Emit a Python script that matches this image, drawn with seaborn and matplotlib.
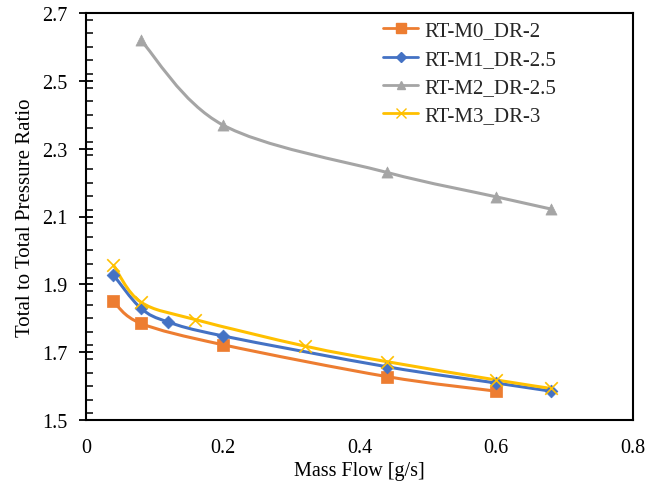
import numpy as np
import pandas as pd
import matplotlib
matplotlib.use("Agg")
import matplotlib.pyplot as plt
from matplotlib.path import Path
from matplotlib.patches import PathPatch
from matplotlib.lines import Line2D
from matplotlib.ticker import MultipleLocator
import seaborn as sns

# ---- data ----
series_names = ["RT-M0_DR-2", "RT-M1_DR-2.5", "RT-M2_DR-2.5", "RT-M3_DR-3"]

m0_flow = [0.04, 0.08, 0.20, 0.44, 0.60]
m0_ratio = [1.850, 1.785, 1.722, 1.628, 1.585]

m1_flow = [0.04, 0.08, 0.12, 0.20, 0.44, 0.60, 0.68]
m1_ratio = [1.928, 1.830, 1.789, 1.748, 1.657, 1.609, 1.585]

m2_flow = [0.08, 0.20, 0.44, 0.60, 0.68]
m2_ratio = [2.620, 2.370, 2.230, 2.158, 2.122]

m3_flow = [0.04, 0.08, 0.16, 0.32, 0.44, 0.60, 0.68]
m3_ratio = [1.957, 1.848, 1.796, 1.718, 1.672, 1.618, 1.593]

colors = ["#ED7D31", "#4472C4", "#A5A5A5", "#FFC000"]
markers = ["s", "D", "^", "x"]
msizes = [9, 6.5, 8, 9]

x_ticks = [0, 0.2, 0.4, 0.6, 0.8]
y_ticks = [1.5, 1.7, 1.9, 2.1, 2.3, 2.5, 2.7]

frames = []
for name, fx, fy in zip(series_names,
                        [m0_flow, m1_flow, m2_flow, m3_flow],
                        [m0_ratio, m1_ratio, m2_ratio, m3_ratio]):
    frames.append(pd.DataFrame({"flow": fx, "ratio": fy, "series": name}))
df = pd.concat(frames, ignore_index=True)

sns.set_theme(style="white")
plt.rcParams["font.family"] = ["Liberation Serif", "DejaVu Serif"]

fig = plt.figure(figsize=(6.62, 4.89), dpi=100)
ax = fig.add_axes([86 / 662, 1 - 421 / 489, (633 - 86) / 662, (421 - 14) / 489])


def smooth_path(xs, ys, tension=1 / 6):
    """Excel-like smoothed line: Catmull-Rom segments as cubic Bezier curves."""
    pts = np.column_stack([xs, ys])
    n = len(pts)
    verts = [pts[0]]
    codes = [Path.MOVETO]
    for i in range(n - 1):
        p0 = pts[i - 1] if i > 0 else pts[i]
        p1 = pts[i]
        p2 = pts[i + 1]
        p3 = pts[i + 2] if i + 2 < n else pts[i + 1]
        c1 = p1 + (p2 - p0) * tension
        c2 = p2 - (p3 - p1) * tension
        verts += [c1, c2, p2]
        codes += [Path.CURVE4] * 3
    return Path(verts, codes)


for name, c in zip(series_names, colors):
    sub = df[df["series"] == name]
    path = smooth_path(sub["flow"].to_numpy(), sub["ratio"].to_numpy())
    ax.add_patch(PathPatch(path, facecolor="none", edgecolor=c, lw=2.2, zorder=2))

for name, c, m, s in zip(series_names, colors, markers, msizes):
    sub = df[df["series"] == name]
    kw = dict(color=c, marker=m, s=s ** 2, zorder=3, ax=ax, legend=False)
    if m == "x":
        kw.update(linewidth=1.2)
    else:
        kw.update(edgecolor=c, linewidth=0.5)
    sns.scatterplot(data=sub, x="flow", y="ratio", **kw)

# legend
handles = [Line2D([0], [0], color=c, lw=2, marker=m, markersize=s * 0.8,
                  markeredgecolor=c, markerfacecolor=c, markeredgewidth=1.0)
           for c, m, s in zip(colors, markers, msizes)]
ax.legend(handles, series_names, loc="upper left", frameon=False,
          fontsize=15, handlelength=1.7, handletextpad=0.3,
          labelspacing=0.42, borderpad=0, borderaxespad=0,
          bbox_to_anchor=((383 - 86) / 547, (421 - 22) / 407))

ax.set_xlim(0, 0.8)
ax.set_ylim(1.5, 2.7)
ax.set_xticks(x_ticks)
ax.set_xticklabels([f"{v:g}" for v in x_ticks])
ax.set_yticks(y_ticks)
ax.set_yticklabels([f"{v:.1f}" for v in y_ticks])
ax.yaxis.set_minor_locator(MultipleLocator(0.04))

ax.tick_params(axis="x", which="both", length=0, labelsize=14.5, pad=13, colors="black")
ax.tick_params(axis="y", which="major", direction="inout", length=10, width=1.3,
               labelsize=14.5, pad=8.5, colors="black", left=True)
ax.tick_params(axis="y", which="minor", direction="in", length=5, width=1.3, left=True)

for sp in ax.spines.values():
    sp.set_color("black")
    sp.set_linewidth(1.5)

ax.set_xlabel("Mass Flow [g/s]", fontsize=14.5, color="black", labelpad=3)
ax.set_ylabel("Total to Total Pressure Ratio", fontsize=15, color="black", labelpad=5)

fig.savefig("out.png", dpi=100)
